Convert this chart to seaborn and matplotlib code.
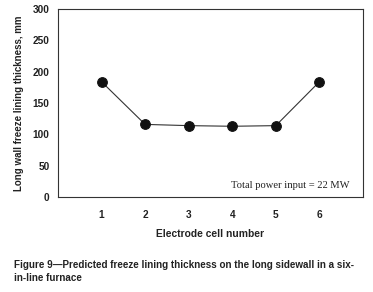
import seaborn as sns
import pandas as pd
import matplotlib.pyplot as plt

# data
cells = [1, 2, 3, 4, 5, 6]
thickness = [184, 116, 114, 113, 114, 184]


def create_plot(output='out.png'):
    sns.set_theme(style='white')
    plt.rcParams['font.family'] = ['Liberation Sans', 'DejaVu Sans']

    data = pd.DataFrame({'cell': cells, 'thickness': thickness})

    fig = plt.figure(figsize=(3.73, 2.92), dpi=100)
    ax = fig.add_axes([0.1555, 0.325, 0.8175, 0.644])

    sns.lineplot(x='cell', y='thickness', data=data, ax=ax,
                 color='#333333', linewidth=0.8, marker='o',
                 markersize=7, markerfacecolor='#111111',
                 markeredgecolor='#111111')

    ax.set_xlim(0, 7)
    ax.set_ylim(0, 300)
    ax.set_xticks(cells)
    ax.set_yticks(range(0, 301, 50))
    ax.tick_params(axis='x', direction='in', length=2, width=0.6,
                   labelsize=7.3, pad=9, colors='#222222')
    ax.tick_params(axis='y', direction='in', length=0,
                   labelsize=7.3, pad=6, colors='#222222')
    for lbl in ax.get_xticklabels() + ax.get_yticklabels():
        lbl.set_fontweight('bold')
    for s in ax.spines.values():
        s.set_color('#333333')
        s.set_linewidth(0.8)

    ax.set_xlabel('Electrode cell number', fontsize=7.4, fontweight='bold',
                  color='#222222', labelpad=7)
    ax.set_ylabel('Long wall freeze lining thickness, mm', fontsize=7,
                  fontweight='bold', color='#222222', labelpad=6)

    ax.text(6.7, 12, 'Total power input = 22 MW', ha='right', va='bottom',
            fontsize=7.6, family=['Liberation Serif', 'DejaVu Serif'],
            color='#222222')

    fig.text(0.037, 0.093, 'Figure 9\u2014Predicted freeze lining thickness on the long sidewall in a six-',
             fontsize=7.1, fontweight='bold', color='#222222',
             ha='left', va='center')
    fig.text(0.037, 0.048, 'in-line furnace',
             fontsize=7.1, fontweight='bold', color='#222222',
             ha='left', va='center')

    fig.savefig(output, dpi=100)


if __name__ == '__main__':
    create_plot()
